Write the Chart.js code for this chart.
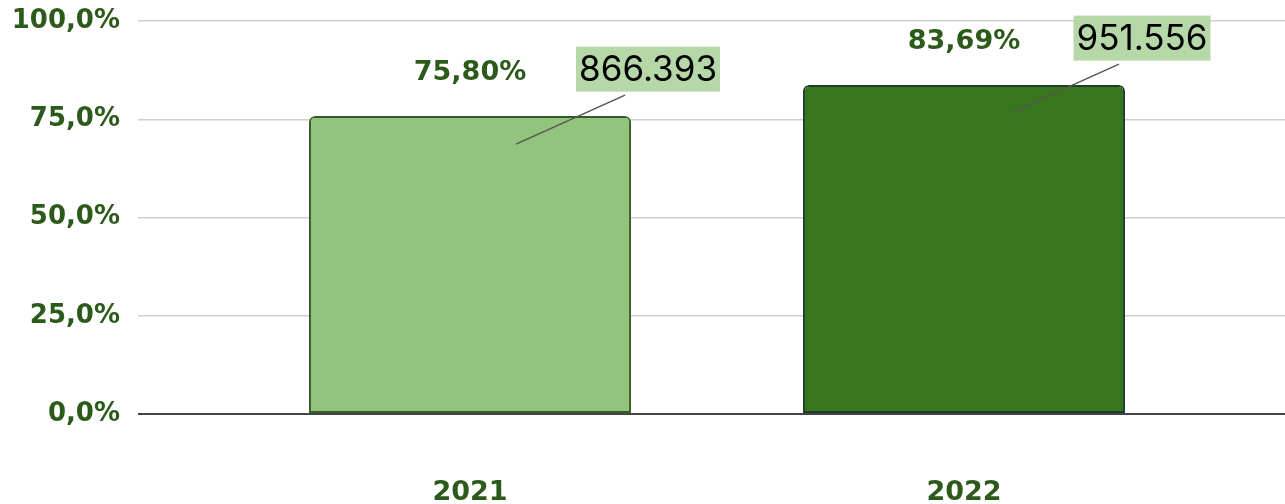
<!DOCTYPE html>
<html>
<head>
<meta charset="utf-8">
<script src="https://cdn.jsdelivr.net/npm/chart.js@4"></script>
<style>
  html, body { margin: 0; padding: 0; background: #fff; }
  .chart-container { position: relative; width: 1285px; height: 504px; }
</style>
</head>
<body>
<div class="chart-container">
    <canvas id="myChart"></canvas>
</div>

<script>
    // chart data
    const years = ['2021', '2022'];
    const shares = [75.80, 83.69];
    const totals = [866393, 951556];
    const yTicks = [0, 25, 50, 75, 100];

    const barColors = ['#93c47d', '#38761d'];
    const barBorders = ['#345c26', '#1f3d2e'];
    const labelGreen = '#2c5a1b';

    const pct = (v, d) => v.toFixed(d).replace('.', ',') + '%';
    const thousands = n => n.toString().replace(/\B(?=(\d{3})+(?!\d))/g, '.');

    // draws the percent labels and the callout boxes over the bars
    const callouts = {
        id: 'callouts',
        afterDatasetsDraw(chart) {
            const ctx = chart.ctx;
            const meta = chart.getDatasetMeta(0);
            meta.data.forEach((bar, i) => {
                const cx = bar.x, top = bar.y;
                ctx.save();
                // percent label
                ctx.font = 'bold 27px "DejaVu Sans"';
                ctx.fillStyle = labelGreen;
                ctx.textAlign = 'center';
                ctx.textBaseline = 'middle';
                ctx.fillText(pct(shares[i], 2), cx, top - 43);

                // leader line
                ctx.strokeStyle = '#555';
                ctx.lineWidth = 1.5;
                ctx.beginPath();
                ctx.moveTo(cx + 155, top - 21);
                ctx.lineTo(cx + 46, top + 28);
                ctx.stroke();

                // box with the total
                ctx.font = '35px Inter';
                const txt = thousands(totals[i]);
                const w = ctx.measureText(txt).width + 6;
                const h = 45;
                const bx = cx + 178, by = top - 47;
                ctx.fillStyle = '#b6d7a8';
                ctx.fillRect(bx - w / 2, by - h / 2, w, h);
                ctx.fillStyle = '#000';
                ctx.fillText(txt, bx, by + 1);
                ctx.restore();
            });
        }
    };

    const ctx = document.getElementById('myChart').getContext('2d');
    const myChart = new Chart(ctx, {
        type: 'bar',
        data: {
            datasets: [{
                data: shares.map((v, i) => ({ x: i, y: v })),
                backgroundColor: barColors,
                borderColor: barBorders,
                borderWidth: 2,
                borderSkipped: false,
                borderRadius: { topLeft: 6, topRight: 6, bottomLeft: 0, bottomRight: 0 },
                barPercentage: 0.652,
                categoryPercentage: 1
            }]
        },
        options: {
            responsive: true,
            maintainAspectRatio: false,
            animation: false,
            layout: { padding: { top: 21, right: 0, bottom: 0, left: 0 } },
            plugins: {
                legend: { display: false },
                tooltip: { enabled: false }
            },
            scales: {
                x: {
                    type: 'linear',
                    offset: false,
                    min: -0.6721,
                    max: 1.6498,
                    grid: { display: false },
                    border: { display: false },
                    afterBuildTicks: scale => { scale.ticks = years.map((y, i) => ({ value: i })); },
                    afterFit: scale => { scale.height = 90; scale.paddingLeft = 0; scale.paddingRight = 0; },
                    ticks: {
                        padding: 55,
                        color: labelGreen,
                        font: { family: 'DejaVu Sans', weight: 'bold', size: 27 },
                        callback: v => years[v]
                    }
                },
                y: {
                    min: 0,
                    max: 100,
                    afterBuildTicks: scale => { scale.ticks = yTicks.map(v => ({ value: v })); },
                    afterFit: scale => { scale.width = 138; scale.paddingTop = 0; scale.paddingBottom = 0; },
                    border: { display: false },
                    grid: {
                        drawTicks: false,
                        color: c => c.tick.value === 0 ? '#444' : '#cfcfcf',
                        lineWidth: c => c.tick.value === 0 ? 2 : 1.5
                    },
                    ticks: {
                        padding: 18,
                        color: labelGreen,
                        font: { family: 'DejaVu Sans', weight: 'bold', size: 26 },
                        callback: v => pct(v, 1)
                    }
                }
            }
        },
        plugins: [callouts]
    });
</script>
</body>
</html>
